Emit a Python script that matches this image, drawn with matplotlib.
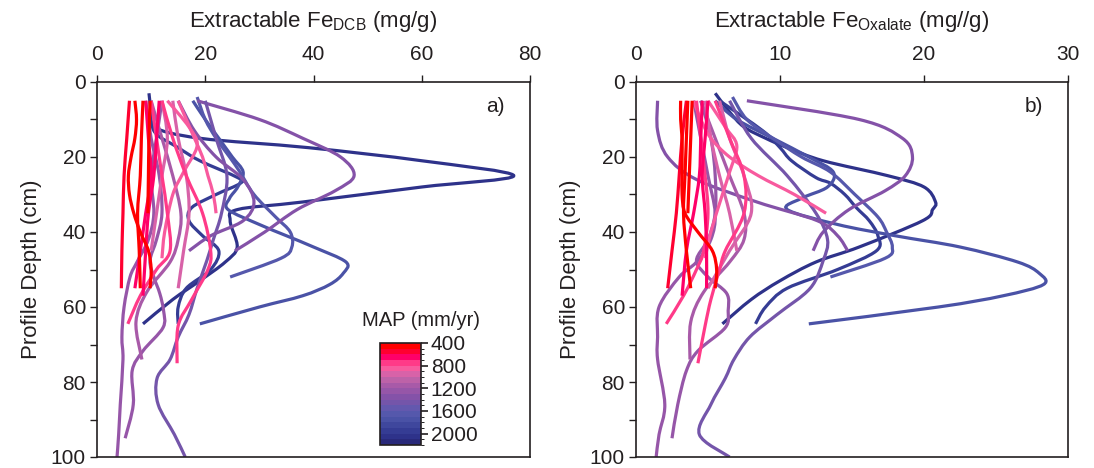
import matplotlib
matplotlib.use("Agg")
import matplotlib.pyplot as plt
import numpy as np
from matplotlib.colors import ListedColormap, BoundaryNorm
from matplotlib.path import Path
from matplotlib.patches import PathPatch
import matplotlib.cm as cm

plt.rcParams["font.family"] = ["Liberation Sans", "DejaVu Sans"]

# mean annual precipitation of each profile (mm/yr)
site_map = [2050, 1900, 1700, 1650, 1300, 1400, 1350, 1250, 1200, 1150, 950,
            900, 850, 800, 750, 700, 680, 620, 550, 480, 460, 420]

# sampling depths (cm) per profile
site_depths = [
    [3, 8, 12, 15, 17.5, 21, 25, 28, 32, 34, 37, 44, 48, 53, 58, 64.5],
    [5, 13, 17.5, 21, 25.5, 27, 30, 33.5, 37, 41, 45, 50, 55, 60, 64.5],
    [5, 10, 15, 20, 24, 28, 31, 34, 38, 41, 44, 48, 51, 54, 57, 60, 64.5],
    [4, 10, 15, 20, 24, 30, 36, 40, 44, 47, 52],
    [5, 10, 15, 20, 25, 29, 34, 40, 45],
    [5, 15, 25, 35, 42, 47.6, 55, 62, 68, 74, 79, 86, 94, 100],
    [5, 13, 20, 26, 32, 37, 41, 45],
    [5, 15, 25, 35, 42, 47.6, 52, 56.4, 61, 65.5, 71.7, 77, 86, 95],
    [5, 15, 25, 35, 42, 48, 52, 60, 68, 74, 86, 94, 100],
    [5, 15, 25, 35, 42, 48, 56, 64, 74],
    [5, 15, 25, 35, 45],
    [5, 15, 25, 35, 45, 55],
    [5, 12, 17, 24, 30, 40, 47],
    [5, 10, 15, 20, 25, 30, 35],
    [5, 15, 25, 35, 45, 50, 58, 65, 75],
    [5, 15, 25, 35, 45, 50, 57, 64.5],
    [5, 15, 25, 35, 45, 55],
    [5, 15, 25, 35, 45, 57],
    [5, 15, 25, 35, 45, 55],
    [5, 15, 25, 35],
    [5, 15, 25, 35, 45, 55],
    [5, 10, 15, 20, 25, 30, 35, 40, 45, 50, 55],
]

# dithionite-citrate-bicarbonate extractable Fe (mg/g)
fe_dcb = [
    [9.6, 10, 10.4, 19, 39, 60, 77, 60, 38, 26, 24.6, 25.9, 23.7, 19, 14, 8.5],
    [10, 10.5, 15, 19, 26, 26.5, 22, 17.5, 17, 19.5, 22.5, 21, 16.5, 15, 15],
    [17.7, 20, 22.5, 25, 27, 26, 24.5, 24.2, 30, 35, 40, 46, 45.5, 43, 38, 30, 19],
    [18.5, 20, 22, 24.5, 26.4, 29, 33, 35.7, 36, 34, 24.6],
    [18.5, 30, 38, 45, 47.5, 44, 37, 31, 25.5],
    [20, 22, 24, 23, 21.5, 20.3, 18.5, 17, 15, 13.5, 11.1, 11.3, 14.3, 16.3],
    [15, 18, 22, 27, 29, 27, 21, 17],
    [9, 10, 11.5, 12, 11, 9.8, 10.5, 11.6, 12.3, 12.2, 8.5, 6.5, 6.7, 5.2],
    [12, 11, 10, 10.5, 9.5, 7.4, 6.1, 5.0, 4.6, 4.8, 4.3, 4.0, 3.7],
    [10, 12, 14, 15.5, 15, 13.5, 9.2, 7.2, 8.3],
    [12, 13, 12, 11, 10],
    [14, 15, 16.5, 17, 16, 15],
    [13, 17, 18.5, 16, 14, 12.5, 12],
    [15, 16.5, 18, 19.5, 20.5, 21.5, 22],
    [12, 14, 16.5, 19.5, 21, 20.5, 17.5, 15, 14.8],
    [10, 11, 12, 13, 13.5, 11, 8, 5.7],
    [9, 9.5, 10, 9, 8, 7],
    [11.5, 11, 10.5, 9.5, 9, 8.5],
    [6, 5.5, 5, 4.8, 4.6, 4.5],
    [9.8, 9.6, 9.5, 9.4],
    [8.5, 8.2, 8, 7.5, 7.8, 8],
    [7, 7.3, 7, 6.3, 5.8, 6, 6.8, 8, 9.5, 10, 9.8],
]

# oxalate extractable Fe (mg/g)
fe_ox = [
    [5.5, 6.5, 7.5, 9, 10.5, 13, 17.5, 20, 20.8, 20.6, 19.9, 15.5, 12.5, 10, 8, 6.0],
    [5.8, 8.8, 10, 10.8, 12.5, 13.5, 14.5, 15.3, 16.2, 16.8, 16.7, 14, 10.5, 9, 8.3],
    [5.5, 7, 9.5, 12, 13.7, 13.3, 11.5, 10.5, 14, 18, 22.5, 26.5, 28, 28.3, 25.5, 21, 12],
    [6.7, 7.7, 9.5, 11.5, 13.5, 15.2, 16.8, 17.4, 17.8, 17.3, 13.5],
    [7.7, 15.5, 18.5, 19.2, 18.7, 17.3, 14.8, 13, 12.3],
    [6.5, 8, 10.5, 12.5, 13.3, 13.0, 12.1, 9.8, 7.9, 6.8, 6.2, 5.2, 4.4, 6.5],
    [1.5, 1.5, 2.2, 4.2, 8.4, 12.6, 14.0, 14.7],
    [4.5, 5.2, 5.5, 5.5, 5.0, 4.2, 5.0, 6.3, 6.4, 6.2, 4.3, 3.5, 2.9, 2.5],
    [4.0, 4.5, 5.0, 5.5, 5.2, 4.2, 3.0, 1.6, 1.5, 1.5, 2.0, 1.6, 1.4],
    [4.5, 5.5, 6.5, 7.5, 7.5, 6.5, 4.7, 3.8, 3.75],
    [4.8, 5.2, 5.8, 6.5, 7.0],
    [5.8, 6.5, 7.5, 8.0, 6.5, 5.0],
    [5.0, 6.2, 7.0, 6.5, 6.0, 5.2, 4.8],
    [4.0, 4.5, 5.2, 6.5, 8.5, 11, 13.2],
    [5.5, 6.5, 7.5, 7.5, 6.2, 5.8, 5.2, 4.8, 4.3],
    [4.2, 4.5, 4.8, 5.0, 4.7, 4.2, 3.3, 2.1],
    [5.0, 4.8, 4.6, 4.8, 4.9, 4.9],
    [4.6, 4.5, 4.4, 4.0, 3.5, 3.2],
    [3.5, 3.2, 3.0, 2.8, 2.5, 2.2],
    [3.9, 3.8, 3.7, 3.6],
    [3.6, 3.5, 3.4, 3.3, 3.5, 3.8],
    [3.1, 3.1, 3.2, 3.2, 3.2, 3.2, 3.4, 4.3, 5.3, 5.6, 5.5],
]

map_colors = ["#ff0000", "#ff0030", "#ff0068", "#ff3a88", "#f85a9e", "#d862a8",
              "#bd62a8", "#a85aa8", "#9656a8", "#8452a8", "#7455aa", "#6358ae",
              "#5558ac", "#4a52a6", "#3f479d", "#353c94", "#2e328a", "#29297a"]
map_bounds = np.arange(400, 2300, 100)
cmap = ListedColormap(map_colors)
norm = BoundaryNorm(map_bounds, cmap.N)

INK = "#231f20"


def smooth_path(x, y):
    """Catmull-Rom style smoothed line (like Excel's smoothed scatter)."""
    pts = np.column_stack([x, y]).astype(float)
    n = len(pts)
    verts = [pts[0]]
    codes = [Path.MOVETO]
    for i in range(n - 1):
        p0 = pts[i - 1] if i > 0 else pts[i]
        p1 = pts[i]
        p2 = pts[i + 1]
        p3 = pts[i + 2] if i + 2 < n else pts[i + 1]
        verts += [p1 + (p2 - p0) / 6, p2 - (p3 - p1) / 6, p2]
        codes += [Path.CURVE4] * 3
    return Path(verts, codes)


fig = plt.figure(figsize=(10.94, 4.68), dpi=100)
ax_a = fig.add_axes([97 / 1094, 1 - 457 / 468, 433 / 1094, 375 / 468])
ax_b = fig.add_axes([636 / 1094, 1 - 457 / 468, 432 / 1094, 375 / 468])

panels = [
    (ax_a, fe_dcb, 80, [0, 20, 40, 60, 80], r"Extractable Fe$_{\mathregular{DCB}}$ (mg/g)", "a)"),
    (ax_b, fe_ox, 30, [0, 10, 20, 30], r"Extractable Fe$_{\mathregular{Oxalate}}$ (mg//g)", "b)"),
]

for ax, values, xmax, xticks, xlabel, tag in panels:
    for m, d, v in zip(site_map, site_depths, values):
        patch = PathPatch(smooth_path(v, d), facecolor="none",
                          edgecolor=cmap(norm(m)), lw=2.3, capstyle="butt")
        ax.add_patch(patch)
    ax.set_xlim(0, xmax)
    ax.set_ylim(100, 0)
    ax.xaxis.tick_top()
    ax.xaxis.set_label_position("top")
    ax.set_xticks(xticks)
    ax.set_yticks([0, 20, 40, 60, 80, 100])
    ax.set_yticks(np.arange(10, 100, 20), minor=True)
    ax.tick_params(axis="both", which="major", labelsize=15, length=5,
                   width=1, color=INK, labelcolor=INK, pad=3)
    ax.tick_params(axis="x", which="major", pad=8)
    ax.tick_params(axis="y", which="minor", length=5, width=1, color=INK)
    ax.set_xlabel(xlabel, fontsize=16, labelpad=13, color=INK)
    ax.set_ylabel("Profile Depth (cm)", fontsize=16, labelpad=6, color=INK)
    for sp in ax.spines.values():
        sp.set_color(INK)
        sp.set_linewidth(1.2)
    ax.text(0.92, 0.935, tag, transform=ax.transAxes, fontsize=15,
            ha="center", va="center", color=INK)

# MAP colour scale inside panel a
cax = fig.add_axes([380 / 1094, 1 - 445 / 468, 41 / 1094, 102 / 468])
sm = cm.ScalarMappable(norm=norm, cmap=cmap)
cb = fig.colorbar(sm, cax=cax, ticks=[400, 800, 1200, 1600, 2000], spacing="proportional")
cax.invert_yaxis()
cb.outline.set_linewidth(1.2)
cb.outline.set_edgecolor(INK)
cax.tick_params(labelsize=15, length=5, width=1.2, color=INK, labelcolor=INK, pad=2)
fig.text(421 / 1094, 1 - 320 / 468, "MAP (mm/yr)", fontsize=14.5,
         ha="center", va="center", color=INK)

fig.savefig("out.png", dpi=100)
